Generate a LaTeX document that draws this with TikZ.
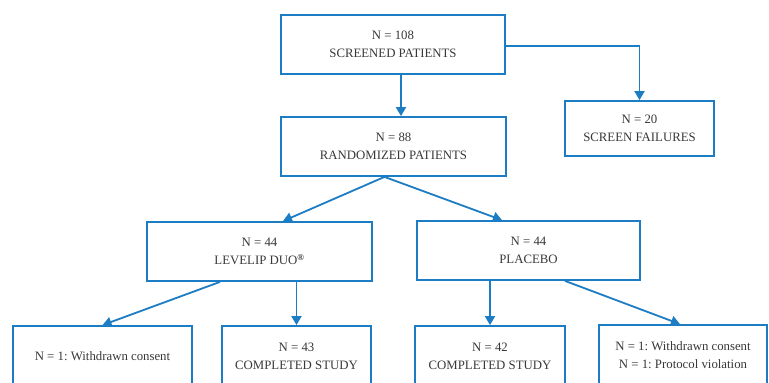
\documentclass[tikz,border=0pt]{standalone}
\usepackage{fontspec}
\setmainfont{Liberation Serif}
\usetikzlibrary{arrows.meta}
\definecolor{cblue}{RGB}{28,124,196}
\frenchspacing
\begin{document}
\begin{tikzpicture}[x=1pt,y=-1pt,
  box/.style={draw=cblue,line width=1.8pt,rectangle,align=center,inner sep=0pt,font=\fontsize{12.8}{18}\selectfont,text=black!78},
  arr/.style={draw=cblue,line width=1.8pt,-{Triangle[length=9pt,width=10pt]}}]
\clip (0,0) rectangle (769,383);
\fill[white] (0,0) rectangle (769,383);
\node[box,minimum width=224pt,minimum height=59pt] (top) at (393,44.5) {N = 108\\SCREENED PATIENTS};
\node[box,minimum width=225pt,minimum height=59pt] (rand) at (393.5,146.5) {N = 88\\RANDOMIZED PATIENTS};
\node[box,minimum width=149pt,minimum height=55pt] (sf) at (639.5,128.5) {N = 20\\SCREEN FAILURES};
\node[box,minimum width=225pt,minimum height=59pt] (lev) at (259.5,251.5) {N = 44\\LEVELIP DUO\textsuperscript{\textbf{\textregistered}}};
\node[box,minimum width=223pt,minimum height=59pt] (pla) at (528.5,250.5) {N = 44\\PLACEBO};
\node[box,minimum width=179pt,minimum height=60pt] (w1) at (102.5,356) {N = 1: Withdrawn consent};
\node[box,minimum width=149pt,minimum height=60pt] (c43) at (296.5,356) {N = 43\\COMPLETED STUDY};
\node[box,minimum width=150pt,minimum height=60pt] (c42) at (490,356) {N = 42\\COMPLETED STUDY};
\node[box,minimum width=168pt,minimum height=61pt] (r) at (683,355.5) {N = 1: Withdrawn consent\\N = 1: Protocol violation};
\coordinate (tr) at (401,0);
\draw[arr] (tr |- top.south) -- (tr |- rand.north);
\draw[arr] ([yshift=-1.5pt]top.east) -| (sf.north);
\draw[arr] ([xshift=-9pt]rand.south) -- ([xshift=23.5pt]lev.north);
\draw[arr] ([xshift=-9pt]rand.south) -- ([xshift=-26.5pt]pla.north);
\draw[arr] ([xshift=-39.5pt]lev.south) -- (w1.north);
\draw[arr] (c43.north |- lev.south) -- (c43.north);
\draw[arr] (c42.north |- pla.south) -- (c42.north);
\draw[arr] ([xshift=36.5pt]pla.south) -- ([xshift=-3pt]r.north);
\end{tikzpicture}
\end{document}
